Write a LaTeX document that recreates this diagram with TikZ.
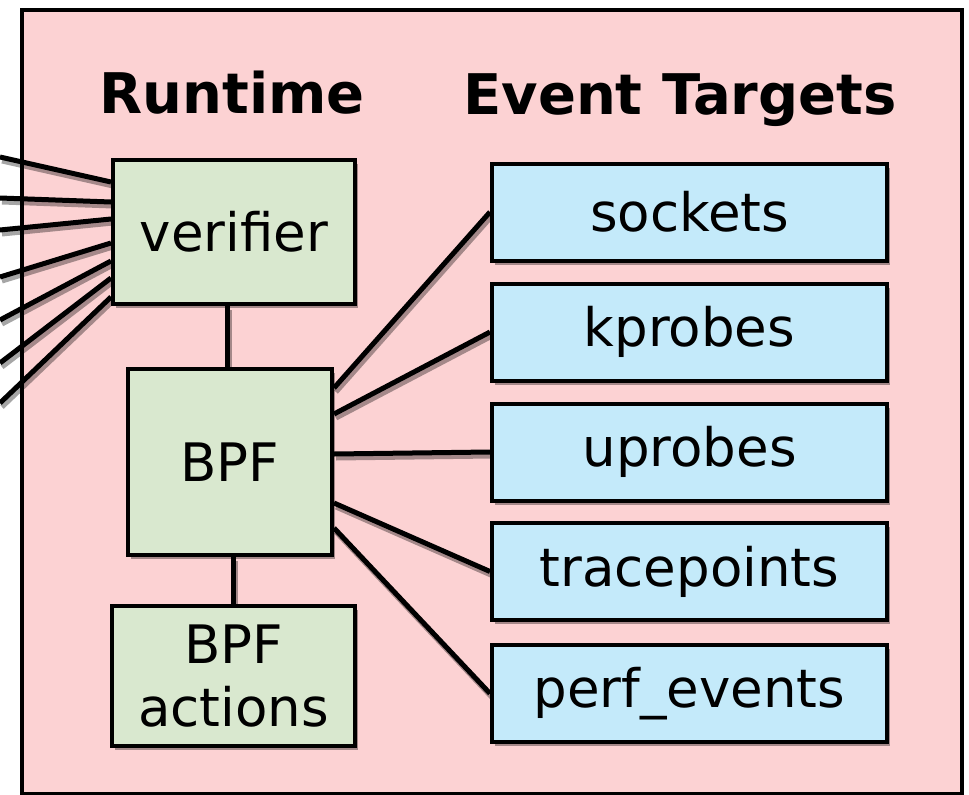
\documentclass[tikz,border=0pt]{standalone}
\usepackage{fontspec}
\setmainfont{DejaVu Sans}
\usetikzlibrary{shadows}
\definecolor{runbg}{RGB}{252,210,211}
\definecolor{rtfill}{RGB}{217,232,207}
\definecolor{evfill}{RGB}{196,234,250}
\tikzset{
  boxshadow/.style={drop shadow={shadow xshift=3pt,shadow yshift=-4pt,fill=black,opacity=0.35}},
  rtbox/.style={draw,line width=4pt,fill=rtfill,boxshadow,inner sep=0pt,align=center,
    font=\fontsize{53}{63}\selectfont},
  evbox/.style={draw,line width=4pt,fill=evfill,boxshadow,inner sep=0pt,
    minimum width=395pt,minimum height=97pt,font=\fontsize{53}{63}\selectfont},
  title/.style={anchor=base,font=\fontsize{56}{60}\selectfont\bfseries},
  wire/.style={line width=5pt},
  wireshadow/.style={line width=5pt,black,opacity=0.35,transform canvas={shift={(2pt,-4pt)}}}
}
% a connector with its shadow
\newcommand\wire[2]{\draw[wireshadow] #1 -- #2; \draw[wire] #1 -- #2;}
\begin{document}
\begin{tikzpicture}[x=1pt,y=-1pt]
  \useasboundingbox (0,0) rectangle (969,795);
  \draw[line width=3.5pt,fill=runbg] (22,10) rectangle (962,794);
  \node[title] (rtitle) at (232,113) {Runtime};
  \node[title] (etitle) at (680,114) {Event Targets};
  % runtime column
  \node[rtbox,minimum width=242pt,minimum height=144pt] (verifier) at (234,232) {verifier};
  \node[rtbox,minimum width=204pt,minimum height=186pt] (bpf) at (230,462) {BPF};
  \node[rtbox,minimum width=243pt,minimum height=140pt] (actions) at (233.5,676) {BPF\\actions};
  % event targets
  \node[evbox] (sockets) at (689.5,212) {sockets};
  \node[evbox] (kprobes) at (689.5,332) {kprobes};
  \node[evbox] (uprobes) at (689.5,452) {uprobes};
  \node[evbox] (tracepoints) at (689.5,571.5) {tracepoints};
  \node[evbox] (perfevents) at (689.5,693.5) {perf\_events};
  % loaders coming in from the left
  \coordinate (in1) at (0,157);
  \coordinate (in2) at (0,198);
  \coordinate (in3) at (0,230);
  \coordinate (in4) at (0,277);
  \coordinate (in5) at (0,320);
  \coordinate (in6) at (0,363);
  \coordinate (in7) at (0,403);
  \wire{(in1)}{([yshift=50pt]verifier.west)}
  \wire{(in2)}{([yshift=30pt]verifier.west)}
  \wire{(in3)}{([yshift=13pt]verifier.west)}
  \wire{(in4)}{([yshift=-11pt]verifier.west)}
  \wire{(in5)}{([yshift=-29pt]verifier.west)}
  \wire{(in6)}{([yshift=-46pt]verifier.west)}
  \wire{(in7)}{([yshift=-65pt]verifier.west)}
  \wire{([xshift=-7pt]verifier.south)}{([xshift=-7pt]verifier.south |- bpf.north)}
  \wire{(actions.north |- bpf.south)}{(actions.north)}
  \wire{([yshift=74pt]bpf.east)}{(sockets.west)}
  \wire{([yshift=48pt]bpf.east)}{(kprobes.west)}
  \wire{([yshift=8pt]bpf.east)}{(uprobes.west)}
  \wire{([yshift=-41pt]bpf.east)}{(tracepoints.west)}
  \wire{([yshift=-66pt]bpf.east)}{(perfevents.west)}
\end{tikzpicture}
\end{document}
